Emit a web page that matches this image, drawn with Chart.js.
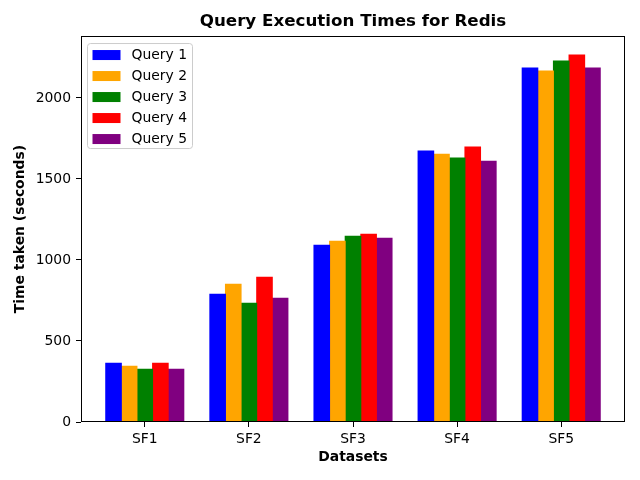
<!DOCTYPE html>
<html>
<head>
<meta charset="utf-8">
<script src="https://cdn.jsdelivr.net/npm/chart.js@4/dist/chart.umd.min.js"></script>
<style>
  html, body { margin: 0; padding: 0; background: #fff; }
  #chart { display: block; }
</style>
</head>
<body>
<canvas id="chart" width="640" height="480"></canvas>
<script>
const categories = ['SF1', 'SF2', 'SF3', 'SF4', 'SF5'];
const seriesNames = ['Query 1', 'Query 2', 'Query 3', 'Query 4', 'Query 5'];
const query1 = [362, 789, 1091, 1672, 2184];
const query2 = [344, 850, 1116, 1653, 2166];
const query3 = [326, 733, 1147, 1629, 2228];
const query4 = [362, 894, 1159, 1697, 2265];
const query5 = [326, 764, 1134, 1610, 2184];
const yTicks = [0, 500, 1000, 1500, 2000];
const colors = ['blue', 'orange', 'green', 'red', 'purple'];

const allSeries = [query1, query2, query3, query4, query5];
const font = 'DejaVu Sans';

// matplotlib-like frame round the plot area
const frame = {
    id: 'frame',
    afterDatasetsDraw(chart) {
        const a = chart.chartArea;
        const c = chart.ctx;
        c.save();
        c.strokeStyle = '#000';
        c.lineWidth = 1;
        c.strokeRect(Math.round(a.left) + 0.5, Math.round(a.top) + 0.5,
            Math.round(a.right - a.left) - 1, Math.round(a.bottom - a.top) - 1);
        c.restore();
    }
};

// legend drawn inside the axes, upper left
const boxLegend = {
    id: 'boxLegend',
    afterDraw(chart) {
        const c = chart.ctx;
        const a = chart.chartArea;
        const x0 = a.left + 6.5, y0 = a.top + 7.5, w = 105, h = 105;
        c.save();
        c.fillStyle = 'rgba(255,255,255,0.8)';
        c.strokeStyle = '#cccccc';
        c.lineWidth = 1;
        c.beginPath();
        c.roundRect(x0, y0, w, h, 3);
        c.fill();
        c.stroke();
        c.font = '13.9px "' + font + '"';
        c.textBaseline = 'middle';
        c.textAlign = 'left';
        chart.data.datasets.forEach((ds, i) => {
            const cy = y0 + 11.5 + i * 21;
            c.fillStyle = ds.backgroundColor;
            c.fillRect(x0 + 5, cy - 5, 28, 10);
            c.fillStyle = '#000';
            c.fillText(ds.label, x0 + 44, cy);
        });
        c.restore();
    }
};

new Chart(document.getElementById('chart').getContext('2d'), {
    type: 'bar',
    data: {
        datasets: allSeries.map((vals, s) => ({
            label: seriesNames[s],
            data: vals.map((v, i) => ({ x: i, y: v })),
            backgroundColor: colors[s],
            borderWidth: 0,
            inflateAmount: 0.5
        }))
    },
    options: {
        responsive: false,
        animation: false,
        datasets: { bar: { categoryPercentage: 0.75, barPercentage: 1.0 } },
        layout: { padding: { left: 0, right: 15, top: 0, bottom: 0 } },
        plugins: {
            legend: { display: false },
            tooltip: { enabled: false },
            title: {
                display: true,
                text: 'Query Execution Times for Redis',
                fullSize: false,
                color: '#000',
                font: { family: font, size: 16.7, weight: 'bold' },
                padding: { top: 12, bottom: 4 }
            }
        },
        scales: {
            x: {
                type: 'linear',
                offset: false,
                min: -0.6125,
                max: 4.6125,
                afterBuildTicks: s => { s.ticks = categories.map((c, i) => ({ value: i })); },
                afterFit: s => { s.height = 58; },
                ticks: {
                    color: '#000',
                    font: { family: font, size: 13.9 },
                    padding: 4,
                    maxRotation: 0,
                    callback: v => categories[v]
                },
                grid: { display: true, offset: false, drawOnChartArea: false, drawTicks: true, tickLength: 5, color: '#000' },
                border: { display: false },
                title: {
                    display: true,
                    text: 'Datasets',
                    color: '#000',
                    font: { family: font, size: 13.9, weight: 'bold' },
                    padding: { top: 0, bottom: 14.6 }
                }
            },
            y: {
                min: 0,
                max: 2382,
                afterBuildTicks: s => { s.ticks = yTicks.map(v => ({ value: v })); },
                afterFit: s => { s.width = 81; },
                ticks: {
                    color: '#000',
                    font: { family: font, size: 13.9 },
                    padding: 5,
                    callback: v => String(v)
                },
                grid: { display: true, drawOnChartArea: false, drawTicks: true, tickLength: 5, color: '#000' },
                border: { display: false },
                title: {
                    display: true,
                    text: 'Time taken (seconds)',
                    color: '#000',
                    font: { family: font, size: 13.9, weight: 'bold' },
                    padding: { top: 12.3, bottom: 0 }
                }
            }
        }
    },
    plugins: [frame, boxLegend]
});
</script>
</body>
</html>
